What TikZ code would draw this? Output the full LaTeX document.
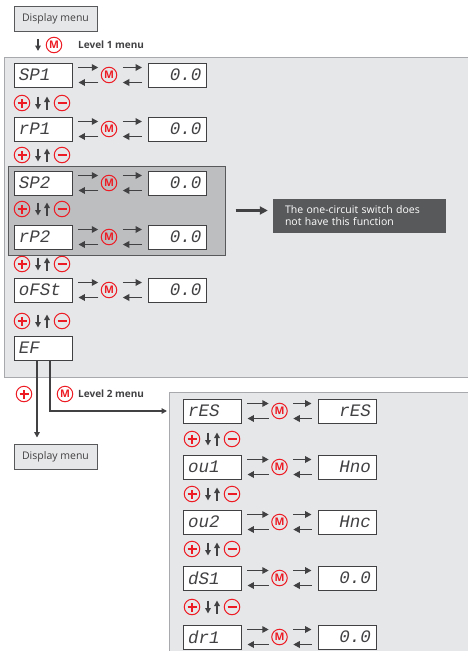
\documentclass[tikz,border=0pt]{standalone}
\usepackage{fontspec}
\setmainfont{Open Sans}
\newfontfamily\lcdfont{Liberation Mono}
\usetikzlibrary{arrows.meta,positioning}

\definecolor{panelgray}{HTML}{E6E7E8}
\definecolor{panelline}{HTML}{A7A9AC}
\definecolor{groupgray}{HTML}{BCBEC0}
\definecolor{darkline}{HTML}{58595B}
\definecolor{arrowgray}{HTML}{414042}
\definecolor{keyred}{HTML}{ED1C24}

\tikzset{
  menubox/.style={draw=darkline, fill=panelgray, line width=0.9pt, minimum width=83pt,
    minimum height=25pt, inner sep=0pt, text=arrowgray, font=\fontsize{10.5}{12}\selectfont},
  lcdbox/.style={draw=arrowgray, fill=white, line width=0.9pt, text width=48pt,
    inner xsep=5pt, inner ysep=0pt, minimum height=24pt, text=arrowgray,
    font=\lcdfont\itshape\fontsize{17.5}{17.5}\selectfont},
  lcdleft/.style={lcdbox, align=left},
  lcdright/.style={lcdbox, align=right},
  keycircle/.style={circle, draw=keyred, line width=1pt, minimum size=15.5pt, inner sep=0pt,
    text=keyred, font=\bfseries\fontsize{10.5}{10.5}\selectfont},
  keysign/.style={keyred, line width=1.7pt},
  pairarrow/.style={arrowgray, line width=1.8pt, -{Triangle[length=6.5pt,width=6.5pt]}},
  flowline/.style={arrowgray, line width=1.6pt, -{Triangle[length=5.5pt,width=5.5pt]}},
  groupbox/.style={draw=darkline, fill=groupgray, line width=1pt, inner sep=0pt},
  notebox/.style={fill=darkline, text=white, text width=149pt, inner xsep=12pt,
    minimum height=34pt, align=left, font=\fontsize{10.5}{12}\selectfont},
  levellabel/.style={anchor=west, inner sep=0pt, text=arrowgray, font=\bfseries\fontsize{10}{12}\selectfont}
}

\begin{document}
\begin{tikzpicture}[x=1pt,y=-1pt]
\useasboundingbox (0,0) rectangle (467,651);

% panels
\fill[panelgray] (4,57) rectangle (470,377);
\draw[panelline, line width=1pt] (470,57) -- (4,57) -- (4,377) -- (470,377);
\fill[panelgray] (169,392) rectangle (470,660);
\draw[panelline, line width=1pt] (470,392) -- (169,392) -- (169,660);
\node[groupbox, minimum width=217pt, minimum height=89pt] (grp) at (116.5,210.5) {};

% level 1
\node[menubox] (disp1) at (55.5,18.5) {Display menu};
\coordinate (top0) at (38,39);
\draw[flowline] (top0) -- ++(0,12);
\node[keycircle] (m0) at (54,45) {M};
\node[levellabel] (lvl1) at (78,45) {Level 1 menu};

\foreach \name/\val/\y [count=\i] in {SP1/0.0/75, rP1/0.0/129, SP2/0.0/183, rP2/0.0/237, oFSt/0.0/290} {
  \node[lcdleft] (a\i) at (43,\y) {\name};
  \node[keycircle] (m\i) at (109,\y) {M};
  \node[lcdright] (b\i) at (177.5,\y) {\val};
  \draw[pairarrow] ([xshift=6pt,yshift=7.5pt]a\i.east) -- ([xshift=-2.5pt,yshift=7.5pt]m\i.west);
  \draw[pairarrow] ([xshift=-2.5pt,yshift=-7.5pt]m\i.west) -- ([xshift=6pt,yshift=-7.5pt]a\i.east);
  \draw[pairarrow] ([xshift=5.5pt,yshift=7.5pt]m\i.east) -- ([xshift=-6pt,yshift=7.5pt]b\i.west);
  \draw[pairarrow] ([xshift=-6pt,yshift=-7.5pt]b\i.west) -- ([xshift=5.5pt,yshift=-7.5pt]m\i.east);
}

\foreach \y [count=\j] in {103,155,209,264,321} {
  \node[keycircle] (plus\j) at (22,\y) {};
  \node[keycircle] (minus\j) at (62,\y) {};
  \draw[keysign] ([xshift=-4.5pt]plus\j.center) -- ([xshift=4.5pt]plus\j.center)
                 ([yshift=-4.5pt]plus\j.center) -- ([yshift=4.5pt]plus\j.center);
  \draw[keysign] ([xshift=-4.5pt]minus\j.center) -- ([xshift=4.5pt]minus\j.center);
  \draw[flowline] ([xshift=16pt,yshift=6.5pt]plus\j.center) -- ([xshift=16pt,yshift=-6.5pt]plus\j.center);
  \draw[flowline] ([xshift=-15pt,yshift=-6.5pt]minus\j.center) -- ([xshift=-15pt,yshift=6.5pt]minus\j.center);
}

\node[lcdleft] (ef) at (43,348) {EF};

% note
\node[notebox] (note) at (359.5,216) {The one-circuit switch does\\not have this function};
\draw[arrowgray, line width=2.5pt, -{Triangle[length=8pt,width=8pt]}] ([xshift=10pt]grp.east) -- ([xshift=-5pt]grp.east -| note.west);

% exits of EF
\node[keycircle] (plusx) at (24,394) {};
\draw[keysign] ([xshift=-4.5pt]plusx.center) -- ([xshift=4.5pt]plusx.center)
               ([yshift=-4.5pt]plusx.center) -- ([yshift=4.5pt]plusx.center);
\node[keycircle] (mx) at (65,394) {M};
\node[levellabel] (lvl2) at (78,394) {Level 2 menu};
\node[menubox] (disp2) at (55.5,456.5) {Display menu};
\coordinate (l2in) at (167,411);
\draw[flowline, shorten >=6pt] ([xshift=-6pt]ef.south) -- ([xshift=-6pt]ef.south |- disp2.north);
\draw[flowline] ([xshift=7pt]ef.south) |- (l2in);

% level 2
\foreach \name/\val/\y [count=\i] in {rES/rES/411, ou1/Hno/467, ou2/Hnc/522, dS1/0.0/578, dr1/0.0/637} {
  \node[lcdleft] (c\i) at (212,\y) {\name};
  \node[keycircle] (n\i) at (279.5,\y) {M};
  \node[lcdright] (d\i) at (347,\y) {\val};
  \draw[pairarrow] ([xshift=6pt,yshift=7.5pt]c\i.east) -- ([xshift=-2.5pt,yshift=7.5pt]n\i.west);
  \draw[pairarrow] ([xshift=-2.5pt,yshift=-7.5pt]n\i.west) -- ([xshift=6pt,yshift=-7.5pt]c\i.east);
  \draw[pairarrow] ([xshift=5.5pt,yshift=7.5pt]n\i.east) -- ([xshift=-6pt,yshift=7.5pt]d\i.west);
  \draw[pairarrow] ([xshift=-6pt,yshift=-7.5pt]d\i.west) -- ([xshift=5.5pt,yshift=-7.5pt]n\i.east);
}

\foreach \y [count=\j] in {439,494,549,607} {
  \node[keycircle] (plusb\j) at (192,\y) {};
  \node[keycircle] (minusb\j) at (232,\y) {};
  \draw[keysign] ([xshift=-4.5pt]plusb\j.center) -- ([xshift=4.5pt]plusb\j.center)
                 ([yshift=-4.5pt]plusb\j.center) -- ([yshift=4.5pt]plusb\j.center);
  \draw[keysign] ([xshift=-4.5pt]minusb\j.center) -- ([xshift=4.5pt]minusb\j.center);
  \draw[flowline] ([xshift=16pt,yshift=6.5pt]plusb\j.center) -- ([xshift=16pt,yshift=-6.5pt]plusb\j.center);
  \draw[flowline] ([xshift=-15pt,yshift=-6.5pt]minusb\j.center) -- ([xshift=-15pt,yshift=6.5pt]minusb\j.center);
}
\end{tikzpicture}
\end{document}
